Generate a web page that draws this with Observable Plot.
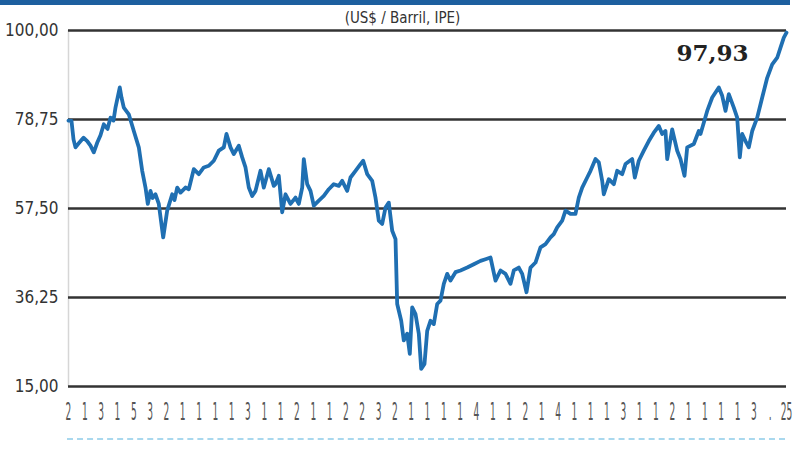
<!DOCTYPE html>
<html>
<head>
<meta charset="utf-8">
<script src="https://cdn.jsdelivr.net/npm/d3@7"></script>
<script src="https://cdn.jsdelivr.net/npm/@observablehq/plot@0.6"></script>
<style>
  html, body { margin: 0; padding: 0; background: #fff; }
  #wrap { position: relative; width: 800px; height: 450px; overflow: hidden; }
  #topbar { position: absolute; left: 0; top: 0; width: 790px; height: 5px; background: #1d5f9f; }
  #dash { position: absolute; left: 67px; top: 438px; width: 718px; border-top: 2px dashed #a9d8ee; }
</style>
</head>
<body>
<div id="wrap"><div id="topbar"></div><div id="dash"></div></div>
<script>
// time index (trading-period position) and price, US$/barrel
const t = [0,3,5,7,10,15,18.7,22,25.3,28.7,32,35.3,39,42,45,47,51.3,53,55.3,60.3,65.3,70.3,73.7,77,79.3,82,84,87,90.3,94.7,98.7,103.7,106,108.7,112,117,120.3,125.3,130.3,135.3,140.3,145.3,150.3,155.3,158,162,165.3,170.3,173.7,177,180.3,183.7,187,192,195.3,200.3,205.3,207,210.3,213.7,217,222,227,230.3,233.7,235.3,238.7,242,245.3,250.3,255.3,260.3,265.3,270.3,273.7,278.7,282,287,292,294.7,298.7,303.7,307,310.3,313.7,317,320.3,323.7,327,328.7,332.7,335.3,338.7,341.3,343.7,347,350.3,352.7,356,358.7,362,365.3,368.7,372,375.3,378.7,382,387,392,398.7,405.3,412,417,422,427,432,437,442,445.3,450.3,453.7,458,462,467,472,477,482,485.3,488.7,493.7,497,502,507,510.3,513.7,518.7,522,527,530.3,533.7,535.3,540.3,545.3,548.7,553.7,557,563.7,566.3,570.3,575.3,580.3,585.3,590.3,593.7,597,598.7,603.7,608.7,612,616,618.7,625.3,630.3,632,638.7,643.7,650.3,653.7,657,660.3,665.3,668.7,671.3,673.7,677,680.3,683.7,688.7,693.7,698.7,703.7,708.7,712,715.3,718];
const price = [78.5,78.4,74.0,72.1,73.0,74.4,73.6,72.5,70.9,73.2,75.0,77.6,76.5,79.2,78.5,81.6,86.4,84.0,81.6,80.0,76.0,72.1,66.5,62.5,58.6,61.7,60.0,60.9,58.6,50.6,57.0,60.9,59.5,62.5,61.3,62.5,62.1,66.9,65.7,67.3,67.7,68.9,71.3,72.1,75.3,72.1,70.5,72.5,69.7,67.3,62.5,60.5,61.7,66.5,62.5,66.9,62.9,63.3,65.3,56.6,60.9,58.6,60.1,58.6,62.5,69.3,63.3,61.7,58.2,59.4,60.5,62.1,63.3,62.9,64.1,61.7,64.9,66.5,68.1,68.9,65.7,64.1,60.1,54.6,53.8,57.7,58.9,52.2,50.2,34.7,30.7,26.0,27.6,22.8,33.9,32.3,27.6,19.2,20.4,28.3,30.7,29.9,34.7,35.5,39.5,41.9,40.3,42.3,42.7,43.4,44.2,45.0,45.4,45.8,40.3,42.7,41.9,39.5,42.7,43.4,41.9,37.5,43.4,44.6,48.2,49.0,50.6,51.4,53.0,54.6,57.0,56.2,56.2,60.1,62.5,64.9,66.5,69.3,68.5,64.1,60.9,64.5,63.3,66.5,65.7,68.1,69.3,64.9,68.9,71.3,73.6,75.6,77.2,75.3,76.0,69.3,76.4,71.3,69.3,65.3,72.1,72.9,76.0,75.3,80.8,84.0,86.4,84.4,80.8,84.8,81.6,79.2,69.7,75.3,73.6,72.1,76.0,79.2,84.0,88.7,91.9,93.5,95.9,98.3,99.5];
const xLabels = ["2","1","3","1","5","3","2","1","1","1","1","3","1","1","2","1","1","2","2","3","2","1","1","1","1","4","1","1","2","1","4","1","1","1","3","1","1","2","1","1","1","1","3",".","25"];
const yTicks = [15, 36.25, 57.5, 78.75, 100];
const subtitle = "(US$ / Barril, IPE)";
const lastLabel = "97,93";

const data = t.map((d, i) => ({t: d, price: price[i]}));
const tMax = t[t.length - 1];
const xTicks = xLabels.map((_, i) => i * tMax / (xLabels.length - 1));
const narrow = "'Liberation Sans Narrow', 'DejaVu Sans Condensed', 'Liberation Sans', sans-serif";

const chart = Plot.plot({
  width: 800,
  height: 450,
  marginLeft: 68,
  marginRight: 14,
  marginTop: 30,
  marginBottom: 64,
  style: {fontFamily: narrow, background: "transparent", overflow: "visible"},
  x: {domain: [0, tMax]},
  y: {domain: [15, 100]},
  marks: [
    Plot.ruleX([0], {stroke: "#d6d6d6", strokeWidth: 1.5}),
    Plot.gridY(yTicks, {stroke: "#333", strokeOpacity: 1, strokeWidth: 2.6}),
    Plot.axisY({ticks: yTicks, tickSize: 0, tickPadding: 10, fontSize: 17, fill: "#333",
      tickFormat: d => d.toFixed(2).replace(".", ","), label: null}),
    Plot.axisX({ticks: xTicks, tickSize: 0, tickPadding: 16, fontSize: 24, fill: "#555",
      tickFormat: (d, i) => xLabels[i], label: null}),
    Plot.line(data, {x: "t", y: "price", stroke: "#1f6fb2", strokeWidth: 3.8, strokeLinejoin: "round", strokeLinecap: "round"}),
    Plot.text([data[data.length - 1]], {x: "t", y: "price", text: () => lastLabel, dx: -74, dy: 21,
      fontFamily: "'DejaVu Serif', serif", fontWeight: "bold", fontSize: 23, fill: "#222"}),
    Plot.text([subtitle], {frameAnchor: "top", lineAnchor: "middle", dx: -25, dy: -12, fontSize: 15, fill: "#333"})
  ]
});
chart.style.position = "absolute";
chart.style.left = "0";
chart.style.top = "0";
document.getElementById("wrap").appendChild(chart);
// condense the bottom tick digits horizontally
chart.querySelectorAll("g[aria-label='x-axis tick label'] text").forEach(el => {
  const tr = el.getAttribute("transform") || "";
  el.setAttribute("transform", tr + " scale(0.42,1)");
});
</script>
</body>
</html>
